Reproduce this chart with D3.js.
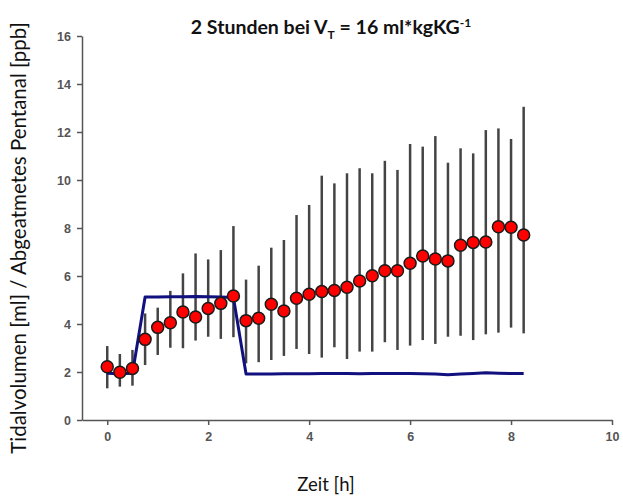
<!DOCTYPE html>
<html>
<head>
<meta charset="utf-8">
<script src="https://cdn.jsdelivr.net/npm/d3@7"></script>
<style>
  body { margin: 0; background: #fff; }
  svg { display: block; }
</style>
</head>
<body>
<svg id="chart"></svg>
<script>
const width = 623;
const height = 499;

// time points [h]
const zeit = [0, 0.25, 0.5, 0.75, 1, 1.25, 1.5, 1.75, 2, 2.25, 2.5, 2.75, 3, 3.25, 3.5, 3.75,
  4, 4.25, 4.5, 4.75, 5, 5.25, 5.5, 5.75, 6, 6.25, 6.5, 6.75, 7, 7.25, 7.5, 7.75, 8, 8.25];

// exhaled pentanal [ppb], mean
const pentanal = [2.22, 1.99, 2.15, 3.36, 3.86, 4.05, 4.50, 4.29, 4.65, 4.86, 5.17, 4.14, 4.24, 4.82,
  4.54, 5.07, 5.24, 5.35, 5.40, 5.53, 5.79, 6.01, 6.22, 6.22, 6.53, 6.83, 6.71, 6.63, 7.28, 7.40,
  7.42, 8.05, 8.03, 7.71];

// error bar limits
const oben = [3.08, 2.75, 2.92, 4.44, 4.68, 5.38, 6.11, 6.94, 6.69, 7.08, 8.08, 5.85, 6.43, 7.18,
  7.50, 8.54, 8.96, 10.18, 9.86, 10.28, 10.49, 10.28, 10.80, 10.42, 11.50, 11.39, 11.83, 10.72,
  11.32, 11.11, 12.08, 12.15, 11.71, 13.05];
const unten = [1.32, 1.39, 1.43, 2.29, 2.71, 3.01, 2.99, 3.31, 3.47, 3.38, 3.45, 2.36, 2.41, 2.50,
  2.67, 2.96, 2.75, 2.60, 3.03, 2.54, 2.85, 2.85, 3.24, 2.92, 3.10, 3.33, 3.17, 3.47, 3.51, 3.33,
  3.57, 3.64, 3.85, 3.61];

// tidal volume [ml]
const tidalvolumen = [1.95, 1.93, 1.95, 5.12, 5.13, 5.14, 5.14, 5.15, 5.14, 5.13, 5.10, 1.92, 1.92,
  1.92, 1.93, 1.93, 1.93, 1.94, 1.94, 1.94, 1.93, 1.94, 1.94, 1.94, 1.94, 1.93, 1.92, 1.89, 1.92,
  1.94, 1.97, 1.95, 1.94, 1.94];

const xTicks = [0, 2, 4, 6, 8, 10];
const yTicks = [0, 2, 4, 6, 8, 10, 12, 14, 16];

const svg = d3.select("#chart")
  .attr("width", width)
  .attr("height", height);

const x = d3.scaleLinear().domain([-0.5, 10]).range([82, 612]);
const y = d3.scaleLinear().domain([0, 16]).range([420, 36]);

const data = zeit.map((t, i) => ({
  t: t, p: pentanal[i], hi: oben[i], lo: unten[i], v: tidalvolumen[i]
}));

// axes
const xAxis = d3.axisBottom(x).tickValues(xTicks).tickSize(5).tickPadding(7);
const yAxis = d3.axisLeft(y).tickValues(yTicks).tickSize(5).tickPadding(6);

function styleAxis(g) {
  g.select(".domain").attr("stroke", "#555").attr("stroke-width", 1.5);
  g.selectAll(".tick line").attr("stroke", "#555").attr("stroke-width", 1.5);
  g.selectAll(".tick text")
    .attr("fill", "#555")
    .style("font-family", "Liberation Sans, Arial, sans-serif")
    .style("font-size", "12.5px")
    .style("font-weight", "bold");
}

svg.append("g")
  .attr("transform", `translate(0, ${y(0)})`)
  .call(xAxis.tickSizeOuter(0))
  .call(styleAxis);

svg.append("g")
  .attr("transform", `translate(${x(-0.5)}, 0)`)
  .call(yAxis.tickSizeOuter(0))
  .call(styleAxis);

// error bars
svg.selectAll(".err")
  .data(data)
  .enter()
  .append("line")
  .attr("class", "err")
  .attr("x1", d => x(d.t))
  .attr("x2", d => x(d.t))
  .attr("y1", d => y(d.hi))
  .attr("y2", d => y(d.lo))
  .attr("stroke", "#444")
  .attr("stroke-width", 2.5);

// tidal volume line
const line = d3.line().x(d => x(d.t)).y(d => y(d.v));
svg.append("path")
  .datum(data)
  .attr("d", line)
  .attr("fill", "none")
  .attr("stroke", "#10107e")
  .attr("stroke-width", 3)
  .attr("stroke-linejoin", "round");

// pentanal points
svg.selectAll(".dot")
  .data(data)
  .enter()
  .append("circle")
  .attr("class", "dot")
  .attr("cx", d => x(d.t))
  .attr("cy", d => y(d.p))
  .attr("r", 6)
  .attr("fill", "#ff0000")
  .attr("stroke", "#1a1a1a")
  .attr("stroke-width", 1.5);

// title
const title = svg.append("text")
  .attr("x", 331)
  .attr("y", 34)
  .attr("text-anchor", "middle")
  .style("font-family", "Lato, 'Open Sans', sans-serif")
  .style("font-size", "19.5px")
  .style("font-weight", "bold")
  .attr("fill", "#111");
title.append("tspan").text("2 Stunden bei V");
title.append("tspan").attr("dy", 5).style("font-size", "12px").text("T");
title.append("tspan").attr("dy", -5).text(" = 16 ml*kgKG");
title.append("tspan").attr("dy", -7).style("font-size", "12px").text("-1");

// axis labels
svg.append("text")
  .attr("x", 326)
  .attr("y", 491)
  .attr("text-anchor", "middle")
  .style("font-family", "Lato, 'Open Sans', sans-serif")
  .style("font-size", "18.5px")
  .attr("fill", "#111")
  .text("Zeit [h]");

svg.append("text")
  .attr("transform", "translate(26, 238) rotate(-90)")
  .attr("text-anchor", "middle")
  .style("font-family", "Lato, 'Open Sans', sans-serif")
  .style("font-size", "20.5px")
  .attr("fill", "#111")
  .text("Tidalvolumen [ml] / Abgeatmetes Pentanal [ppb]");
</script>
</body>
</html>
